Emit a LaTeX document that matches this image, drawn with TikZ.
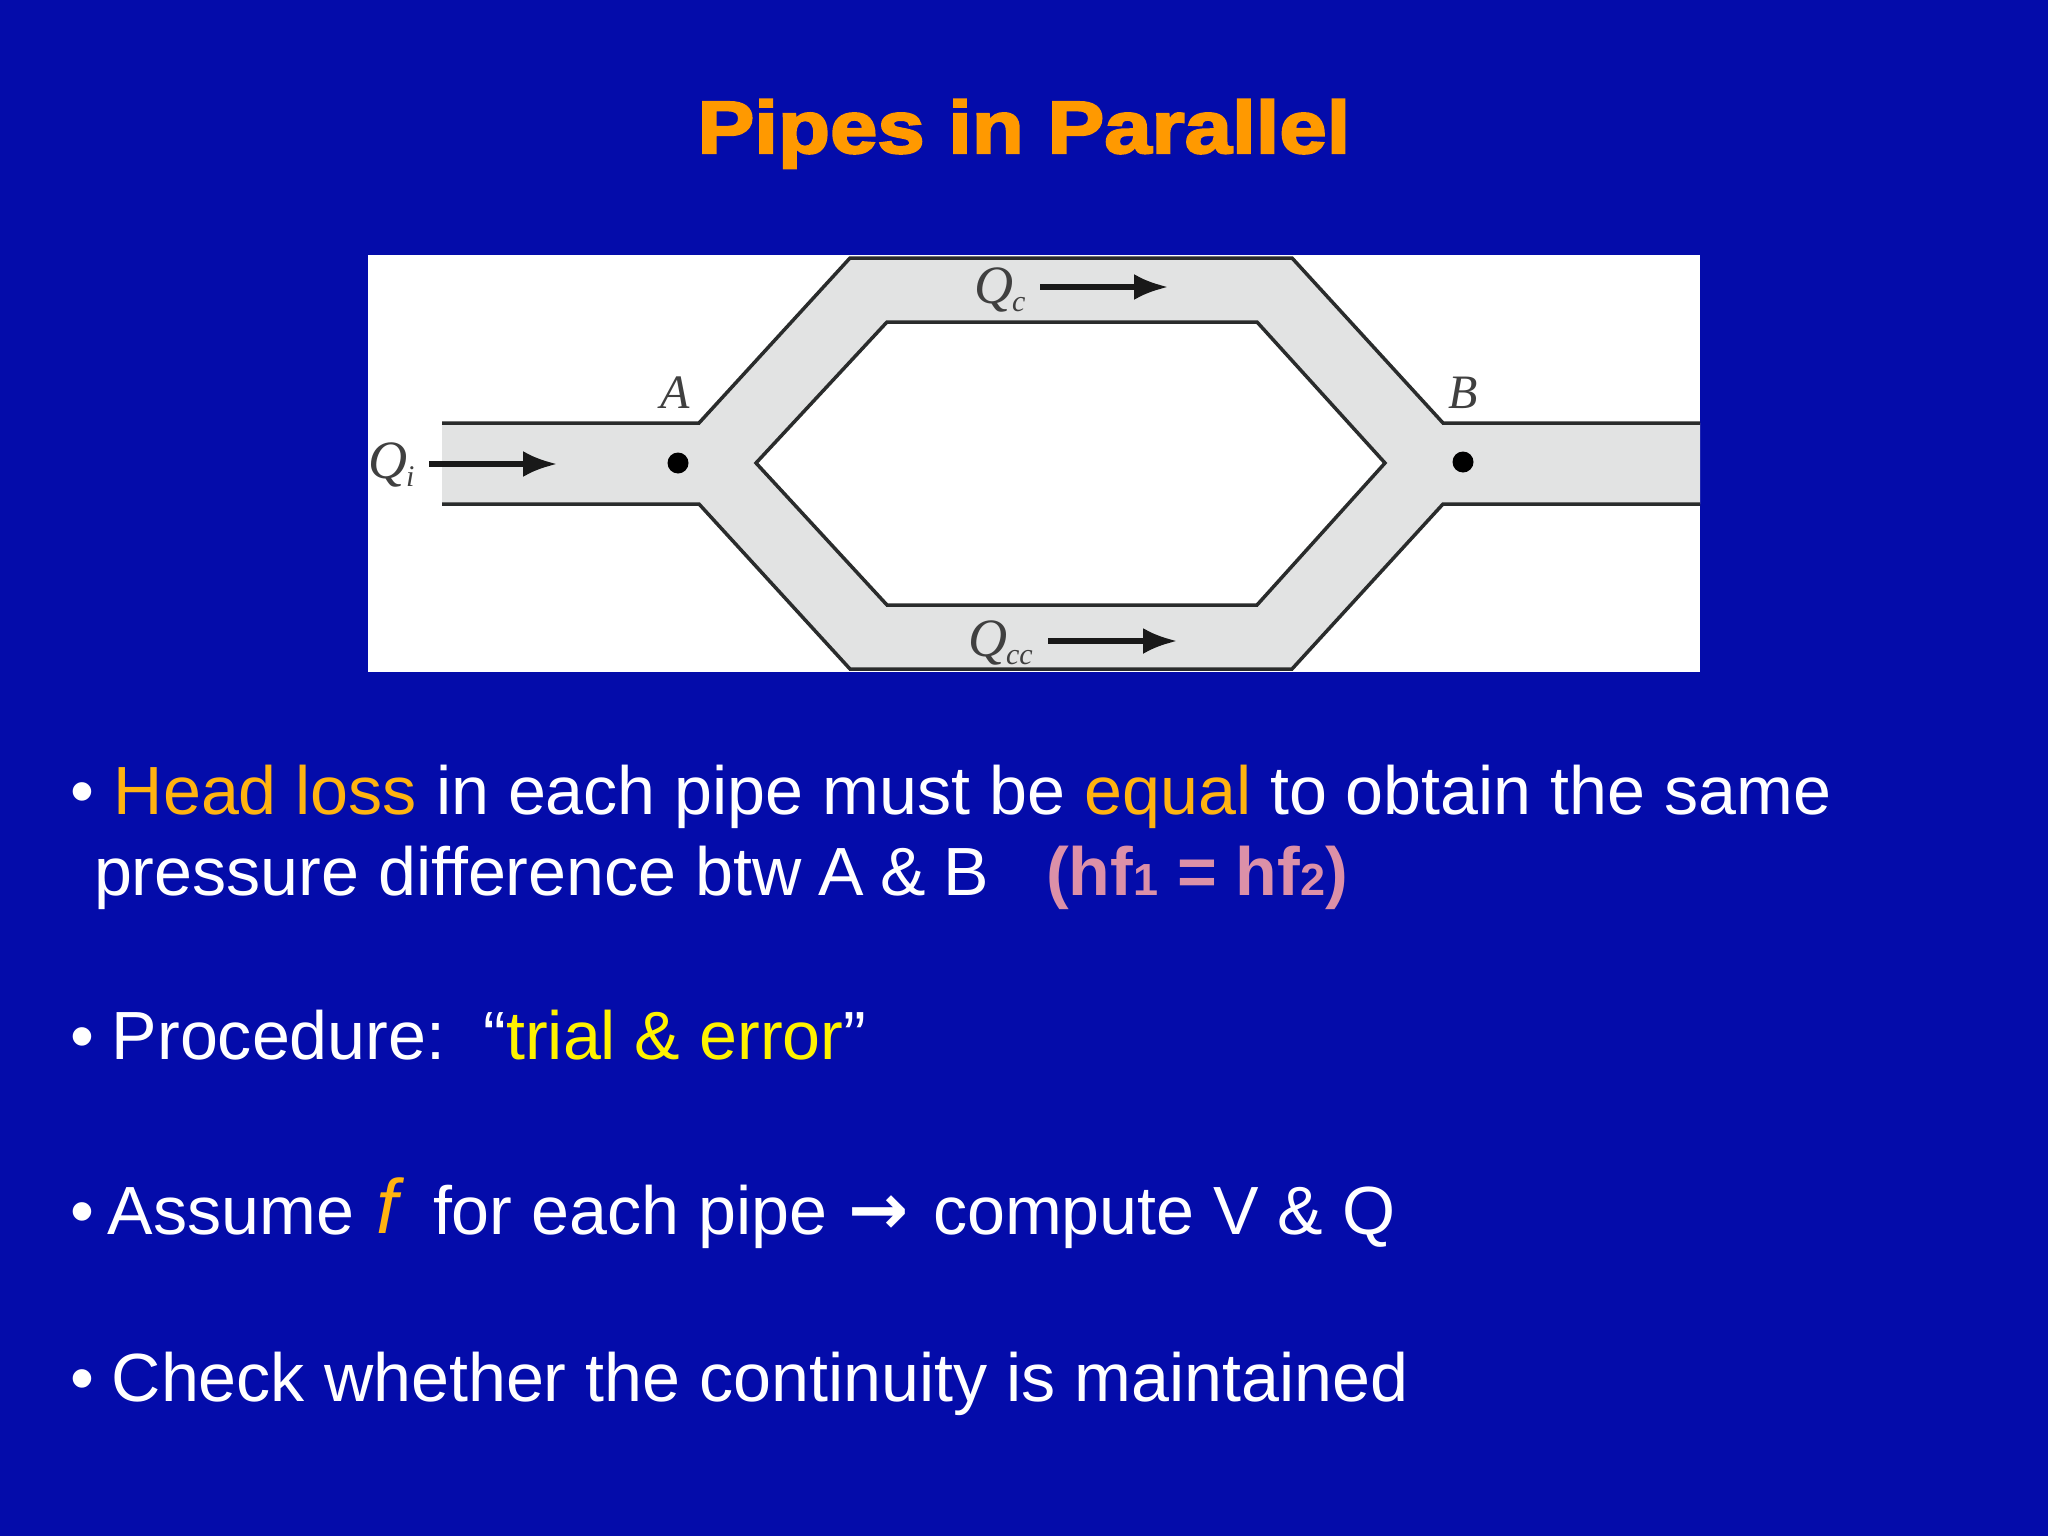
\documentclass[tikz,border=0pt]{standalone}
\usepackage{fontspec}
\setmainfont{Liberation Sans}
\newfontfamily\titlefont[FakeStretch=1.15,FakeBold=3]{Liberation Sans Bold}
\newfontfamily\symfont{DejaVu Sans}
\newfontfamily\pipefont{Liberation Serif}
\definecolor{slidebg}{HTML}{040CAA}
\definecolor{titleor}{HTML}{FF9900}
\definecolor{accent}{HTML}{FFB310}
\definecolor{pinkish}{HTML}{DC90A8}
\definecolor{pipegray}{HTML}{E2E3E3}
\definecolor{pipeline}{HTML}{2A2C2C}
\usetikzlibrary{arrows.meta}
\tikzset{
  body/.style={anchor=base west,inner sep=0pt,outer sep=0pt,text=white,font=\fontsize{68.2}{68.2}\selectfont},
  pipewall/.style={draw=pipeline,line width=3.5pt,line join=miter},
  flow/.style={draw=black!90,line width=5.5pt,-{Latex[length=34pt,width=26pt]}},
  plabel/.style={inner sep=0pt,outer sep=0pt,text=black!75,font=\pipefont\itshape\fontsize{48}{48}\selectfont},
  qlabel/.style={plabel,anchor=base west,font=\pipefont\itshape\fontsize{54}{54}\selectfont},
  dotmark/.style={circle,fill=black,inner sep=0pt,minimum size=21pt}
}
\begin{document}
\begin{tikzpicture}[x=1pt,y=-1pt]
\useasboundingbox (0,0) rectangle (2048,1536);
\fill[slidebg] (0,0) rectangle (2048,1536);
\node[anchor=base,inner sep=0pt,text=titleor,font=\titlefont\fontsize{74}{74}\selectfont] (title) at (1024,153) {Pipes in Parallel};
% picture
\fill[white] (368,255) rectangle (1700,672);
\fill[pipegray] (442,423) -- (699,423) -- (850,258) -- (1292,258) -- (1443,423) -- (1700,423) -- (1700,504) -- (1443,504) -- (1292,669) -- (850,669) -- (699,504) -- (442,504) -- cycle;
\fill[white] (756,463) -- (887,322) -- (1257,322) -- (1385,463) -- (1257,605) -- (887,605) -- cycle;
\draw[pipewall] (442,423) -- (699,423) -- (850,258) -- (1292,258) -- (1443,423) -- (1700,423);
\draw[pipewall] (442,504) -- (699,504) -- (850,669) -- (1292,669) -- (1443,504) -- (1700,504);
\draw[pipewall] (756,463) -- (887,322) -- (1257,322) -- (1385,463) -- (1257,605) -- (887,605) -- cycle;
\node[dotmark] (A) at (678,463) {};
\node[dotmark] (B) at (1463,462) {};
\node[plabel] (la) at (675,393) {A};
\node[plabel] (lb) at (1463,393) {B};
\node[qlabel] (qi) at (368,478) {Q\kern-1pt\raisebox{-8pt}{\fontsize{30}{30}\selectfont i}};
\node[qlabel] (qc) at (974,303) {Q\kern-1pt\raisebox{-8pt}{\fontsize{30}{30}\selectfont c}};
\node[qlabel] (qcc) at (968,656) {Q\kern-1pt\raisebox{-8pt}{\fontsize{30}{30}\selectfont cc}};
\coordinate (qia) at (429,464); \coordinate (qib) at (557,464);
\coordinate (qca) at (1040,287); \coordinate (qcb) at (1168,287);
\coordinate (qda) at (1048,641); \coordinate (qdb) at (1177,641);
\draw[flow] (qia) -- (qib);
\draw[flow] (qca) -- (qcb);
\draw[flow] (qda) -- (qdb);
% text
\node[body] (b1) at (70,814) {•\hspace{20pt}\textcolor{accent}{Head loss} in each pipe must be \textcolor{accent}{equal} to obtain the same};
\node[body] (l2) at (94,895) {pressure difference btw\hspace{-2pt} A\hspace{-2pt} \&\hspace{-2pt} B};
\node[body,text=pinkish,font=\bfseries\fontsize{68.2}{68.2}\selectfont] (hf) at (1046,895) {(hf{\fontsize{45}{45}\selectfont 1} = hf{\fontsize{45}{45}\selectfont 2})};
\node[body] (b2) at (70,1059) {•\hspace{18pt}Procedure:\hspace{38pt}“\textcolor{yellow}{trial \& error}”};
\node[body] (b3) at (70,1234) {•\hspace{14pt}Assume};
\node[body,text=accent,font=\itshape\fontsize{77}{77}\selectfont] (ff) at (376,1233) {f};
\node[body] (b3b) at (433,1234) {for each pipe};
\node[body,font=\symfont\bfseries\fontsize{72}{72}\selectfont] (arr) at (848,1234) {→};
\node[body] (b3c) at (933,1234) {compute V \& Q};
\node[body] (b4) at (70,1401) {•\hspace{18pt}Check whether the continuity is maintained};
\end{tikzpicture}
\end{document}
